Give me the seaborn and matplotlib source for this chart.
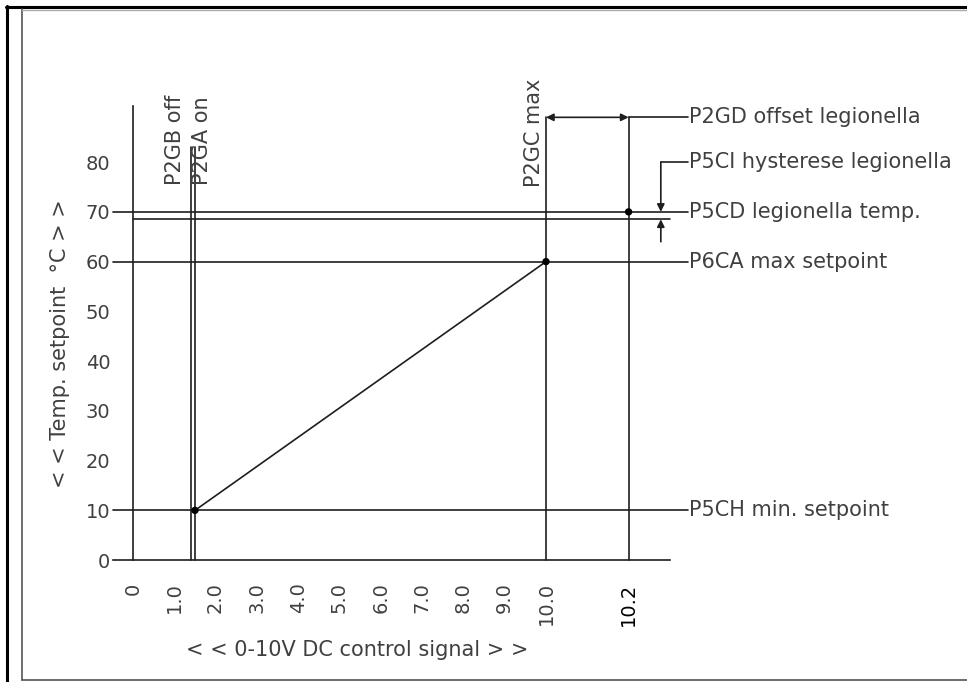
import matplotlib
matplotlib.use("Agg")
import matplotlib.pyplot as plt
import seaborn as sns
import pandas as pd
from matplotlib.lines import Line2D

# DATOS DEL DIAGRAMA
x_tick_pos = [0, 1, 2, 3, 4, 5, 6, 7, 8, 9, 10, 12]
x_tick_labels = ["0", "1.0", "2.0", "3.0", "4.0", "5.0", "6.0", "7.0", "8.0", "9.0", "10.0", "10.2"]
y_ticks = [0, 10, 20, 30, 40, 50, 60, 70, 80]

# curva de consigna (0-10V -> temperatura)
signal = [1.5, 10.0]
setpoint = [10, 60]

# parametros
p2gb_off = 1.4
p2ga_on = 1.5
p2gc_max = 10.0
pos_10_2 = 12.0          # posicion del 10.2 en el eje (no a escala)
min_setpoint = 10
max_setpoint = 60
legionella_temp = 70
hysteresis_low = 68.5
offset_level = 89

right_labels = ["P2GD offset legionella", "P5CI hysterese legionella",
                "P5CD legionella temp.", "P6CA max setpoint", "P5CH min. setpoint"]
right_labels_y = [89, 80, 70, 60, 10]

df = pd.DataFrame({"signal": signal, "setpoint": setpoint})
dots = pd.DataFrame({"signal": [1.5, 10.0, 12.0], "setpoint": [10, 60, 70]})

sns.set_style("white")
plt.rcParams["font.family"] = ["DejaVu Sans"]

LC = "#1e1e1e"   # color de lineas
TC = "#404040"   # color de texto
LW = 1.2
FS = 15

fig = plt.figure(figsize=(9.67, 6.82), dpi=100)
ax = fig.add_axes([91.7 / 967, (682 - 585) / 682, 867.3 / 967, 522.4 / 682])
ax.set_xlim(-1, 20)
ax.set_ylim(-5, 100)
ax.patch.set_alpha(0)

# EJES
for s in ["top", "right"]:
    ax.spines[s].set_visible(False)
ax.spines["left"].set_position(("data", 0))
ax.spines["bottom"].set_position(("data", 0))
ax.spines["left"].set_bounds(0, 91.3)
ax.spines["bottom"].set_bounds(-0.48, 13.0)
for s in ["left", "bottom"]:
    ax.spines[s].set_color(LC)
    ax.spines[s].set_linewidth(LW)

ax.set_yticks(y_ticks)
ax.set_yticklabels([str(v) for v in y_ticks])
ax.set_xticks(x_tick_pos)
ax.set_xticklabels(x_tick_labels, rotation=90)
ax.tick_params(axis="y", direction="out", length=14.4, width=LW, pad=2,
               colors=LC, labelcolor=TC, labelsize=14)
ax.tick_params(axis="x", direction="out", length=13, width=LW, pad=3,
               colors=LC, labelcolor=TC, labelsize=14)
ax.get_xticklabels()[-1].set_color("black")

# LINEAS HORIZONTALES
ax.plot([-0.48, 13.43], [min_setpoint] * 2, color=LC, lw=LW)
ax.plot([-0.48, 13.43], [max_setpoint] * 2, color=LC, lw=LW)
ax.plot([-0.48, 13.43], [legionella_temp] * 2, color=LC, lw=LW)
ax.plot([0, 13.0], [hysteresis_low] * 2, color=LC, lw=LW)

# LINEAS VERTICALES
ax.plot([p2gb_off] * 2, [0, 83], color=LC, lw=LW)
ax.plot([p2ga_on] * 2, [0, 83], color=LC, lw=LW)
ax.plot([p2gc_max] * 2, [0, offset_level], color=LC, lw=LW)
ax.plot([pos_10_2] * 2, [0, offset_level], color=LC, lw=LW)

# CURVA DE CONSIGNA
sns.lineplot(data=df, x="signal", y="setpoint", ax=ax, color=LC, lw=LW)
sns.scatterplot(data=dots, x="signal", y="setpoint", ax=ax, color="black",
                s=28, edgecolor="none", zorder=5)
ax.set_xlabel("")
ax.set_ylabel("")

# COTA OFFSET LEGIONELLA
arrow = dict(arrowstyle="<|-|>", color=LC, lw=LW, mutation_scale=11, shrinkA=0, shrinkB=0)
ax.annotate("", xy=(p2gc_max, offset_level), xytext=(pos_10_2, offset_level), arrowprops=arrow)
ax.plot([pos_10_2, 13.43], [offset_level] * 2, color=LC, lw=LW)

# COTA HISTERESIS
xh = 12.78
one = dict(arrowstyle="-|>", color=LC, lw=LW, mutation_scale=11, shrinkA=0, shrinkB=0)
ax.annotate("", xy=(xh, legionella_temp), xytext=(xh, 80), arrowprops=one)
ax.annotate("", xy=(xh, hysteresis_low), xytext=(xh, 64), arrowprops=one)
ax.plot([xh, 13.43], [80, 80], color=LC, lw=LW)

# TEXTOS
for lab, yv in zip(right_labels, right_labels_y):
    ax.text(13.47, yv, lab, ha="left", va="center", fontsize=FS, color=TC)

ax.text(1.02, 75.4, "P2GB off", rotation=90, ha="center", va="bottom", fontsize=FS, color=TC)
ax.text(1.68, 75.4, "P2GA on", rotation=90, ha="center", va="bottom", fontsize=FS, color=TC)
ax.text(9.71, 75.0, "P2GC max", rotation=90, ha="center", va="bottom", fontsize=FS, color=TC)

fig.text(357 / 967, 1 - 650 / 682, "< < 0-10V DC control signal > >",
         ha="center", va="center", fontsize=FS, color=TC)
fig.text(60 / 967, 1 - 344 / 682, "< < Temp. setpoint  °C > >", rotation=90,
         ha="center", va="center", fontsize=FS, color=TC)

# MARCO DE LA TABLA
fig.add_artist(Line2D([7 / 967, 7 / 967], [0, 1 - 6 / 682], color="black", lw=2.2))
fig.add_artist(Line2D([6 / 967, 1], [1 - 7 / 682, 1 - 7 / 682], color="black", lw=2.2))
fig.add_artist(Line2D([22 / 967, 22 / 967], [2 / 682, 1 - 9 / 682], color="#555555", lw=1.2))
fig.add_artist(Line2D([22 / 967, 1], [2 / 682, 2 / 682], color="#555555", lw=1.2))
fig.add_artist(Line2D([22 / 967, 1], [1 - 9.5 / 682, 1 - 9.5 / 682], color="#aaaaaa", lw=1.0))

fig.savefig("out.png", dpi=100)
